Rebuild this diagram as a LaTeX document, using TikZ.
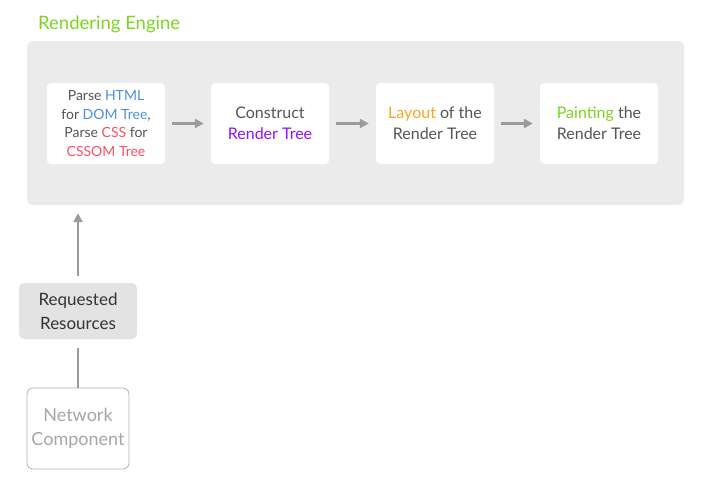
\documentclass[tikz,border=0pt]{standalone}
\usepackage{fontspec}
\setmainfont{Lato}
\usepackage{xcolor}
\usetikzlibrary{arrows.meta,positioning}

\definecolor{enginegray}{HTML}{EBEBEB}
\definecolor{resgray}{HTML}{E3E3E3}
\definecolor{arrowgray}{HTML}{9B9B9B}
\definecolor{textgray}{HTML}{555555}
\definecolor{htmlblue}{HTML}{4A90E2}
\definecolor{cssred}{HTML}{FF4F64}
\definecolor{treepurple}{HTML}{9013FE}
\definecolor{layoutorange}{HTML}{F5A623}
\definecolor{paintgreen}{HTML}{7ED321}

\tikzset{
  stage/.style={fill=white, rounded corners=4pt, minimum width=118pt, minimum height=81pt,
    align=center, text=textgray, font=\fontsize{16}{21}\selectfont},
  flow/.style={draw=arrowgray, line width=2.8pt, -{Triangle[length=9pt,width=9pt]}}
}

\begin{document}
\begin{tikzpicture}[x=1pt, y=-1pt]
  \useasboundingbox (0,0) rectangle (705,491);

  % engine frame
  \node[anchor=west, inner sep=0pt, text=paintgreen, font=\fontsize{18.5}{20}\selectfont] (title) at (38,24) {Rendering Engine};
  \node[fill=enginegray, rounded corners=6pt, minimum width=657pt, minimum height=164pt, inner sep=0pt] (engine) at (355.5,123) {};

  % stages
  \node[stage, font=\fontsize{14}{18.5}\selectfont] (parse) at (106,123.5)
    {Parse \textcolor{htmlblue}{HTML}\\for \textcolor{htmlblue}{DOM Tree},\\Parse \textcolor{cssred}{CSS} for\\\textcolor{cssred}{CSSOM Tree}};
  \node[stage] (construct) at (270,123.5) {Construct\\\textcolor{treepurple}{Render Tree}};
  \node[stage] (layout) at (435,123.5) {\textcolor{layoutorange}{Layout} of the\\Render Tree};
  \node[stage] (paint) at (599,123.5) {\textcolor{paintgreen}{Painting} the\\Render Tree};

  \draw[flow] ([xshift=7pt]parse.east) -- ([xshift=-7pt]construct.west);
  \draw[flow] ([xshift=7pt]construct.east) -- ([xshift=-7pt]layout.west);
  \draw[flow] ([xshift=7pt]layout.east) -- ([xshift=-7pt]paint.west);

  % input side
  \node[fill=resgray, rounded corners=5pt, minimum width=118pt, minimum height=56pt, align=center,
    text=black!80, font=\fontsize{17}{24}\selectfont] (resources) at (78,311) {Requested\\Resources};
  \node[draw=black!30, line width=0.8pt, fill=white, rounded corners=6pt, minimum width=102pt, minimum height=81pt, align=center,
    text=black!35, font=\fontsize{18}{24}\selectfont] (network) at (78,428.5) {Network\\Component};

  \draw[flow] ([yshift=7pt]resources.north) -- ([yshift=-8pt]resources.north |- engine.south);
  \draw[draw=arrowgray, line width=2.8pt] (network.north) -- ([yshift=-9pt]resources.south);
\end{tikzpicture}
\end{document}
